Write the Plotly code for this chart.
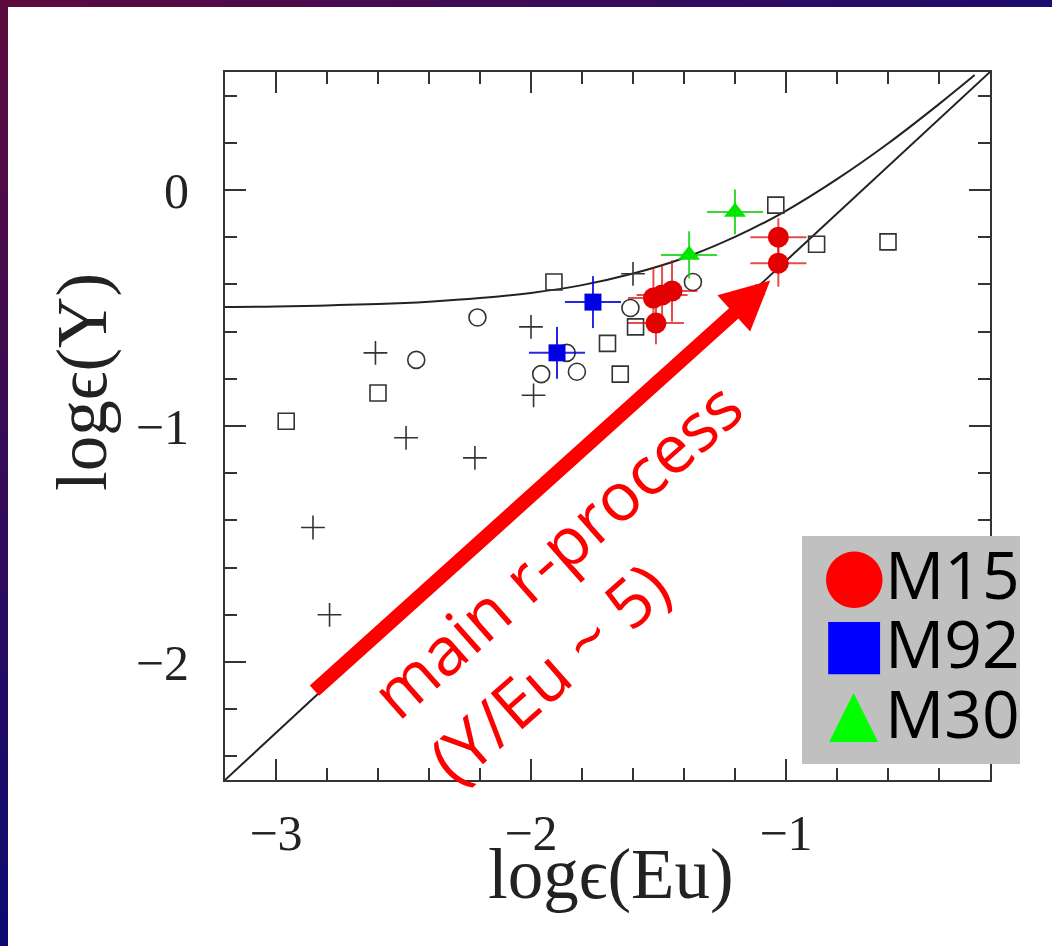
import plotly.graph_objects as go

W, H = 1052, 946
ML, MR, MT, MB = 225, 62, 72, 166
PW = W - ML - MR
PH = H - MT - MB


def px_x(p):
    return (p - ML) / PW


def px_y(p):
    return (H - MB - p) / PH


# ---------------- data ----------------
curve_x = [-3.2, -3.0, -2.8, -2.6, -2.4, -2.2, -2.0, -1.8, -1.6, -1.4, -1.2, -1.0, -0.8, -0.6, -0.4, -0.26]
curve_y = [-0.496, -0.494, -0.489, -0.483, -0.473, -0.458, -0.436, -0.403, -0.354, -0.288, -0.199,
           -0.088, 0.046, 0.197, 0.364, 0.487]

rline_x = [-3.2, -0.2]
rline_y = [-2.5, 0.5]

sq_x = [-2.96, -2.60, -1.91, -1.70, -1.65, -1.59, -1.04, -0.88, -0.60]
sq_y = [-0.98, -0.86, -0.39, -0.65, -0.78, -0.58, -0.064, -0.23, -0.22]

circ_x = [-2.45, -2.21, -1.96, -1.86, -1.82, -1.61, -1.365]
circ_y = [-0.72, -0.54, -0.78, -0.69, -0.77, -0.50, -0.39]

plus_x = [-2.855, -2.79, -2.61, -2.49, -2.22, -2.00, -1.99, -1.60]
plus_y = [-1.43, -1.80, -0.69, -1.05, -1.135, -0.58, -0.87, -0.355]

m15_x = [-1.03, -1.03, -1.52, -1.486, -1.447, -1.51]
m15_y = [-0.20, -0.31, -0.458, -0.445, -0.428, -0.564]
m15_ex = [0.11, 0.11, 0.10, 0.10, 0.10, 0.11]
m15_ey = [0.08, 0.10, 0.13, 0.13, 0.13, 0.09]

m92_x = [-1.757, -1.898]
m92_y = [-0.475, -0.69]
m92_ex = [0.11, 0.11]
m92_ey = [0.11, 0.11]

m30_x = [-1.20, -1.38]
m30_y = [-0.093, -0.275]
m30_ex = [0.11, 0.11]
m30_ey = [0.095, 0.10]

x_ticks = [-3, -2, -1]
y_ticks = [-2, -1, 0]

arrow_tail = (-2.855, -2.127)
arrow_tip = (-1.062, -0.384)

legend_names = ["M15", "M92", "M30"]
legend_glyphs = ["\u25CF", "\u25A0", "\u25B2"]
legend_colors = ["#ff0000", "#0000ff", "#00ff00"]

RED = "#e30000"
BLUE = "#0000e6"
GREEN = "#00e600"
INK = "#333333"

fig = go.Figure()

fig.add_trace(go.Scatter(x=curve_x, y=curve_y, mode="lines", line=dict(color="#222", width=2, shape="spline"),
                         showlegend=False, hoverinfo="skip", name="weak + main r-process"))
fig.add_trace(go.Scatter(x=rline_x, y=rline_y, mode="lines", line=dict(color="#222", width=2),
                         showlegend=False, hoverinfo="skip", name="main r-process"))

fig.add_trace(go.Scatter(x=sq_x, y=sq_y, mode="markers", name="field (squares)",
                         marker=dict(symbol="square-open", size=16, color=INK, line=dict(width=1.6, color=INK)),
                         showlegend=False))
fig.add_trace(go.Scatter(x=circ_x, y=circ_y, mode="markers", name="field (circles)",
                         marker=dict(symbol="circle-open", size=17, color=INK, line=dict(width=1.6, color=INK)),
                         showlegend=False))
fig.add_trace(go.Scatter(x=plus_x, y=plus_y, mode="markers", name="field (plus)",
                         marker=dict(symbol="cross-thin-open", size=17, color=INK, line=dict(width=1.6, color=INK)),
                         showlegend=False))


def err(vals, color):
    return dict(type="data", array=vals, visible=True, color=color, thickness=2, width=0)


fig.add_trace(go.Scatter(x=m30_x, y=m30_y, mode="markers", name="M30",
                         marker=dict(symbol="triangle-up", size=19, color=GREEN),
                         error_x=err(m30_ex, "rgba(0,210,0,0.8)"), error_y=err(m30_ey, "rgba(0,210,0,0.8)"),
                         showlegend=False))
fig.add_trace(go.Scatter(x=m92_x, y=m92_y, mode="markers", name="M92",
                         marker=dict(symbol="square", size=17, color=BLUE),
                         error_x=err(m92_ex, "rgba(0,0,220,0.85)"), error_y=err(m92_ey, "rgba(0,0,220,0.85)"),
                         showlegend=False))
fig.add_trace(go.Scatter(x=m15_x, y=m15_y, mode="markers", name="M15",
                         marker=dict(symbol="circle", size=21, color=RED),
                         error_x=err(m15_ex, "rgba(220,0,0,0.7)"), error_y=err(m15_ey, "rgba(220,0,0,0.7)"),
                         showlegend=False))

shapes = []


def lerp(c1, c2, t):
    return "rgb(%d,%d,%d)" % tuple(round(a + (b - a) * t) for a, b in zip(c1, c2))


TL = (94, 11, 62)
TR = (28, 11, 110)
BL = (11, 11, 114)
N = 24
for i in range(N):
    t0, t1 = i / N, (i + 1) / N
    shapes.append(dict(type="rect", xref="paper", yref="paper", layer="below",
                       x0=px_x(0), x1=px_x(8), y0=px_y(H * t0), y1=px_y(H * t1 + 1),
                       fillcolor=lerp(TL, BL, (t0 + t1) / 2), line=dict(width=0)))
    shapes.append(dict(type="rect", xref="paper", yref="paper", layer="below",
                       x0=px_x(W * t0), x1=px_x(W * t1 + 1), y0=px_y(0), y1=px_y(7),
                       fillcolor=lerp(TL, TR, (t0 + t1) / 2), line=dict(width=0)))

# legend box
shapes.append(dict(type="rect", xref="paper", yref="paper", layer="above",
                   x0=px_x(802), x1=px_x(1020), y0=px_y(764), y1=px_y(536),
                   fillcolor="#c0c0c0", line=dict(width=0)))

annotations = []
annotations.append(dict(x=arrow_tip[0], y=arrow_tip[1], xref="x", yref="y",
                        ax=arrow_tail[0], ay=arrow_tail[1], axref="x", ayref="y",
                        text="", showarrow=True, arrowhead=2, arrowsize=0.7, arrowwidth=14,
                        arrowcolor="#ff0000"))
annotations.append(dict(x=-1.79, y=-1.66, xref="x", yref="y", showarrow=False,
                        text="main r-process<br>(Y/Eu ~ 5)", align="left", textangle=-41.5,
                        font=dict(family="Open Sans", size=67, color="#ff0000")))

rows = [573, 642, 712]
glyph_sizes = [74, 68, 64]
for name, g, c, r, gs in zip(legend_names, legend_glyphs, legend_colors, rows, glyph_sizes):
    annotations.append(dict(x=px_x(854), y=px_y(r), xref="paper", yref="paper", showarrow=False,
                            text=g, font=dict(family="DejaVu Sans", size=gs, color=c),
                            xanchor="center", yanchor="middle"))
    annotations.append(dict(x=px_x(883), y=px_y(r), xref="paper", yref="paper", showarrow=False,
                            text=name, font=dict(family="Open Sans", size=66, color="#000"),
                            xanchor="left", yanchor="middle"))

# axis titles
annotations.append(dict(x=px_x(611), y=px_y(874), xref="paper", yref="paper", showarrow=False,
                        text="log\u03f5(Eu)", font=dict(family="Liberation Serif", size=71, color="#222"),
                        xanchor="center", yanchor="middle"))
annotations.append(dict(x=px_x(82), y=px_y(382), xref="paper", yref="paper", showarrow=False,
                        text="log\u03f5(Y)", textangle=-90,
                        font=dict(family="Liberation Serif", size=71, color="#222"),
                        xanchor="center", yanchor="middle"))

axis_common = dict(showgrid=False, zeroline=False, showline=True, linecolor=INK, linewidth=2,
                   mirror="ticks", ticks="inside", ticklen=21, tickwidth=1.6, tickcolor=INK,
                   tickfont=dict(family="Liberation Serif", size=50, color="#222"))

fig.update_layout(
    width=W, height=H,
    margin=dict(l=ML, r=MR, t=MT, b=MB, pad=0),
    paper_bgcolor="white", plot_bgcolor="white",
    showlegend=False,
    xaxis=dict(range=[-3.2, -0.2], tickvals=x_ticks, ticklabelstandoff=8,
               minor=dict(dtick=0.2, tick0=-3, ticks="inside", ticklen=12, tickwidth=1.6, tickcolor=INK,
                          showgrid=False),
               **axis_common),
    yaxis=dict(range=[-2.5, 0.5], tickvals=y_ticks, ticklabelstandoff=24,
               minor=dict(dtick=0.2, tick0=0, ticks="inside", ticklen=12, tickwidth=1.6, tickcolor=INK,
                          showgrid=False),
               **axis_common),
    shapes=shapes,
    annotations=annotations,
)

fig.write_html("out.html", config={"displayModeBar": False},
               post_script="document.body.style.margin='0';document.body.style.overflow='hidden';")
